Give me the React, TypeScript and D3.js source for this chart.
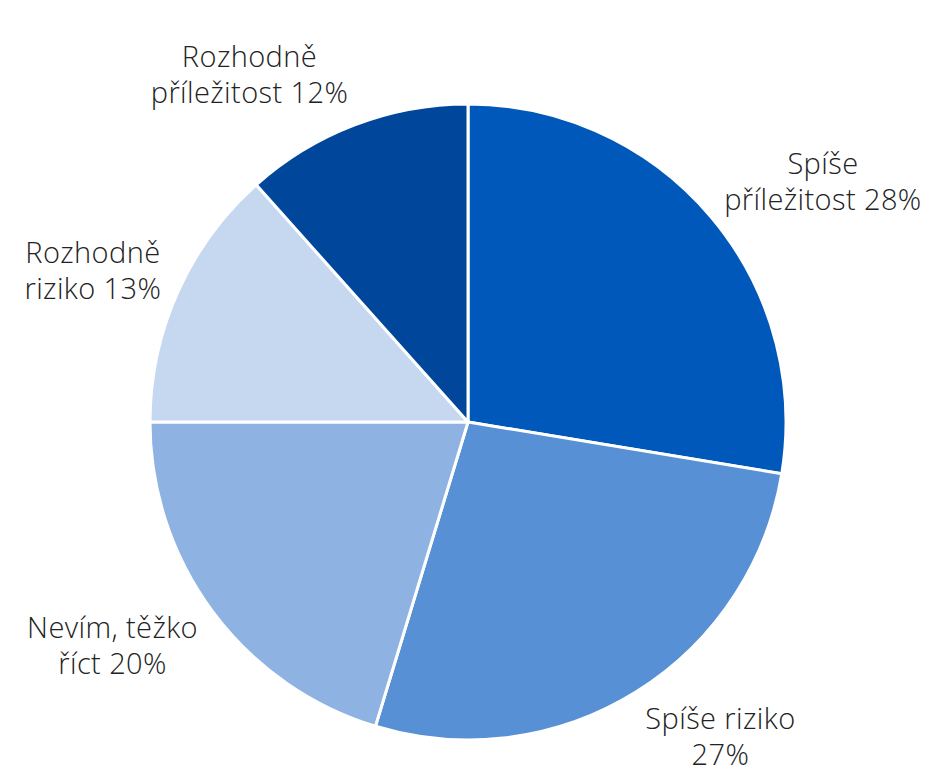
import { useRef, useEffect } from 'react'
import * as d3 from 'd3'

const categories = [
  'Spíše příležitost',
  'Spíše riziko',
  'Nevím, těžko říct',
  'Rozhodně riziko',
  'Rozhodně příležitost',
]
const values = [27.6, 27.1, 20.3, 13.4, 11.6]
const labelLines = [
  ['Spíše', 'příležitost 28%'],
  ['Spíše riziko', '27%'],
  ['Nevím, těžko', 'říct 20%'],
  ['Rozhodně', 'riziko 13%'],
  ['Rozhodně', 'příležitost 12%'],
]
const colors = ['#0059BA', '#5790D5', '#8EB2E2', '#C6D8F0', '#00479B']

const PieChart: React.FC = () => {
  const chartRef = useRef<SVGSVGElement>(null)

  useEffect(() => {
    if (!chartRef.current) return

    const width = 939
    const height = 774
    const cx = 468
    const cy = 422
    const radius = 318
    const gap = 18
    const lineHeight = 36

    const svg = d3.select(chartRef.current)
    svg.selectAll('*').remove()
    svg.attr('width', width).attr('height', height)

    const pie = d3
      .pie<number>()
      .sort(null)
      .value((d) => d)
    const arcs = pie(values)

    const arc = d3
      .arc<d3.PieArcDatum<number>>()
      .innerRadius(0)
      .outerRadius(radius)

    const g = svg.append('g').attr('transform', `translate(${cx},${cy})`)

    g.selectAll('path')
      .data(arcs)
      .enter()
      .append('path')
      .attr('d', arc as any)
      .attr('fill', (_, i) => colors[i])
      .attr('stroke', '#fff')
      .attr('stroke-width', 3)
      .attr('stroke-linejoin', 'round')
      .append('title')
      .text((_, i) => categories[i])

    const labels = g
      .selectAll('text.label')
      .data(arcs)
      .enter()
      .append('text')
      .attr('class', 'label')
      .attr('text-anchor', 'middle')
      .attr('font-family', '"Open Sans", Lato, sans-serif')
      .attr('font-weight', 300)
      .attr('font-size', 29)
      .attr('letter-spacing', 0.4)
      .attr('fill', '#222')

    labels.each(function (d, i) {
      const t = d3.select(this)
      labelLines[i].forEach((line, j) => {
        t.append('tspan').attr('x', 0).attr('y', j * lineHeight).text(line)
      })
      const box = (this as SVGTextElement).getBBox()
      const mid = (d.startAngle + d.endAngle) / 2
      const sx = Math.sin(mid)
      const cyA = -Math.cos(mid)
      const px = (radius + gap) * sx
      const py = (radius + gap) * cyA
      const centerX = px + (sx >= 0 ? 1 : -1) * (box.width / 2)
      // keep the label box inside the picture
      let centerY = py + cyA * (box.height / 2)
      centerY = Math.min(centerY, height - cy - box.height / 2 - 1)
      const boxMidY = box.y + box.height / 2
      t.attr('transform', `translate(${centerX},${centerY - boxMidY})`)
    })
  }, [])

  return (
    <svg
      ref={chartRef}
      style={{ position: 'absolute', left: 0, top: 0, background: '#fff' }}
    />
  )
}

export default function App() {
  return <PieChart />
}
